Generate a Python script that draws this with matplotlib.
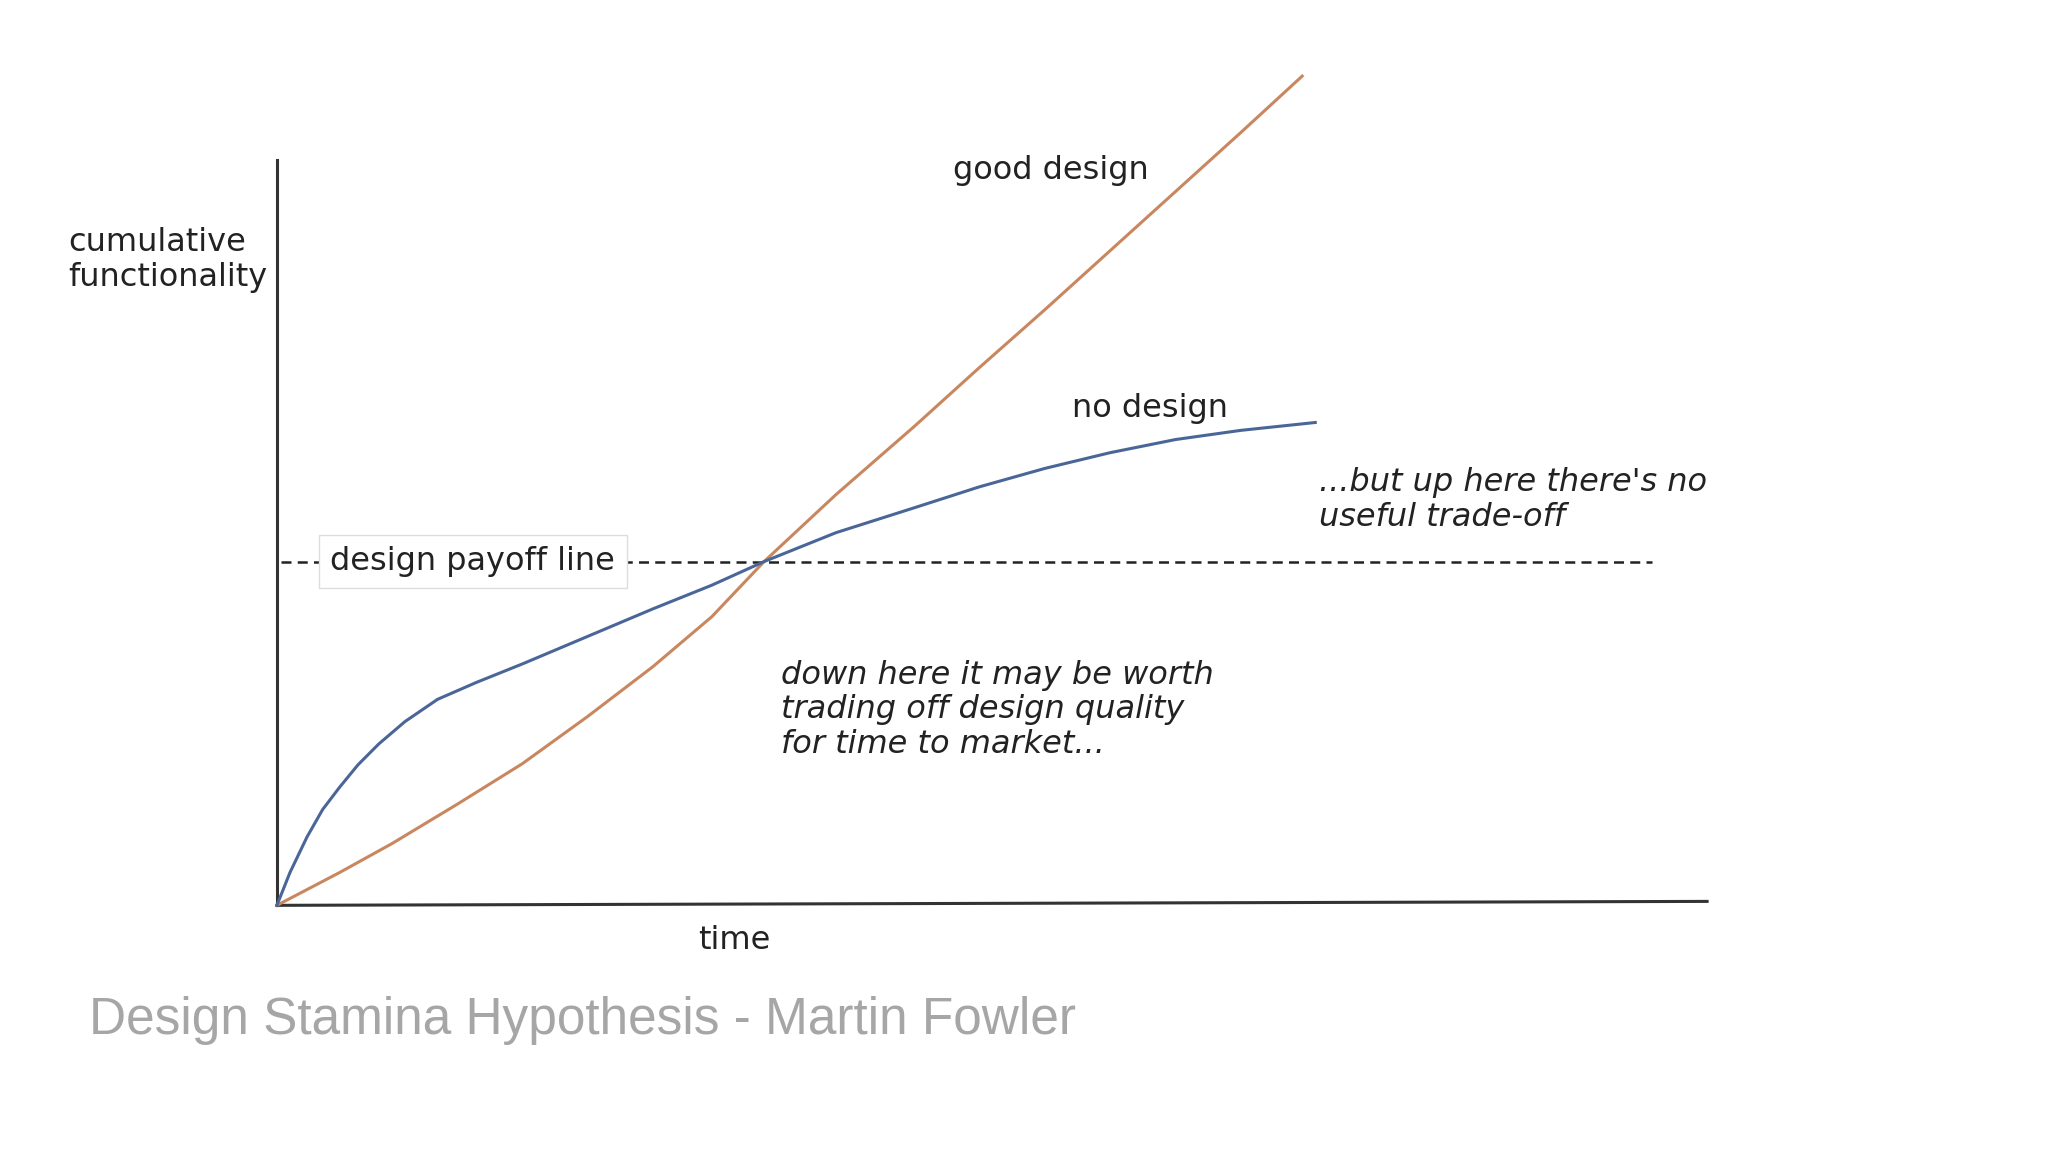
import matplotlib
matplotlib.use("Agg")
import matplotlib.pyplot as plt

good_t = [212, 260, 300, 350, 400, 450, 500, 545, 585, 640, 700, 750, 800, 850, 900, 950, 997]
good_f = [690, 665, 643, 613, 582, 546, 508, 470, 428, 377, 325, 280, 236, 191, 146, 101, 58]
no_t = [212, 222, 235, 247, 260, 274, 290, 310, 335, 365, 400, 450, 500, 545, 585, 640, 700, 750, 800, 850, 900, 950, 1007]
no_f = [690, 665, 638, 617, 600, 583, 567, 550, 533, 520, 506, 485, 464, 446, 428, 406, 387, 371, 357, 345, 335, 328, 322]
payoff_y = 428

fig = plt.figure(figsize=(20.48, 11.52), dpi=100)
ax = fig.add_axes([0, 0, 1, 1])
ax.set_xlim(0, 1568)
ax.set_ylim(878, 0)
ax.axis("off")

ax.plot([212, 212], [690, 122], color="#333333", lw=2.2)
ax.plot([212, 1307], [690, 687], color="#333333", lw=2.2)
ax.plot([215, 1265], [payoff_y, payoff_y], color="#222222", lw=1.8, ls=(0, (4, 2.5)))
ax.plot(good_t, good_f, color="#c8875f", lw=2.2)
ax.plot(no_t, no_f, color="#4a6698", lw=2.2)

fs = 23
ax.text(253, payoff_y, "design payoff line", fontsize=fs, va="center", ha="left", color="#222222",
        bbox=dict(boxstyle="square,pad=0.35", fc="white", ec="#dddddd", lw=1))
ax.text(52, 198, "cumulative\nfunctionality", fontsize=fs, va="center", ha="left", color="#222222", linespacing=1.15)
ax.text(730, 130, "good design", fontsize=fs, va="center", ha="left", color="#222222")
ax.text(821, 311, "no design", fontsize=fs, va="center", ha="left", color="#222222")
ax.text(1010, 381, "...but up here there's no\nuseful trade-off", fontsize=fs, va="center", ha="left",
        style="italic", color="#222222", linespacing=1.15)
ax.text(598, 541, "down here it may be worth\ntrading off design quality\nfor time to market...", fontsize=fs,
        va="center", ha="left", style="italic", color="#222222", linespacing=1.15)
ax.text(562, 717, "time", fontsize=fs, va="center", ha="center", color="#222222")
ax.text(68, 778, "Design Stamina Hypothesis - Martin Fowler", fontsize=37, va="center", ha="left",
        color="#a6a6a6", family="Liberation Sans")

fig.savefig("out.png", dpi=100, facecolor="white")
